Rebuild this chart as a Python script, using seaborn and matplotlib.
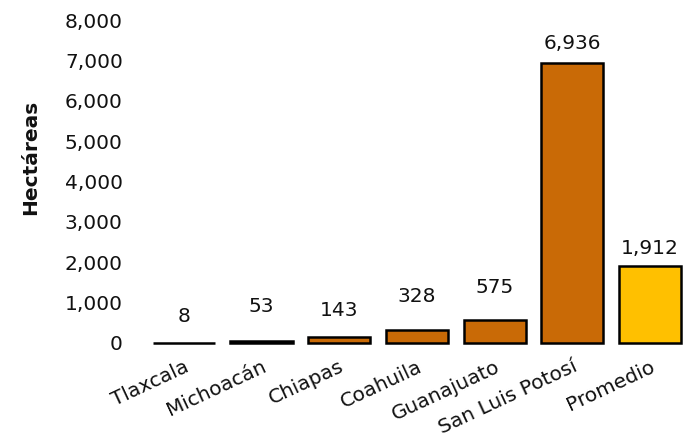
import matplotlib
matplotlib.use("Agg")
import matplotlib.pyplot as plt
import seaborn as sns
import pandas as pd

estados = ["Tlaxcala", "Michoacán", "Chiapas", "Coahuila", "Guanajuato",
           "San Luis Potosí", "Promedio"]
hectareas = [8, 53, 143, 328, 575, 6936, 1912]
colores = ["#C96A06"] * 6 + ["#FFC000"]
yticks = [0, 1000, 2000, 3000, 4000, 5000, 6000, 7000, 8000]

df = pd.DataFrame({"estado": estados, "ha": hectareas})

sns.set_theme(style="white")
plt.rcParams["font.family"] = ["DejaVu Sans"]

fig = plt.figure(figsize=(6.85, 4.37), dpi=100)
ax = fig.add_axes([145 / 685, 94 / 437, 540 / 685, 323 / 437])

sns.barplot(data=df, x="estado", y="ha", hue="estado", palette=colores,
            legend=False, width=0.8, edgecolor="black", linewidth=1.8,
            saturation=1, ax=ax)
for bar in ax.patches:
    bar.set_clip_on(False)

label_offsets = [26, 34, 27, 33, 32, 19, 17]
for i, (v, off) in enumerate(zip(hectareas, label_offsets)):
    ax.annotate(f"{v:,}", (i, v), xytext=(0, off), textcoords="offset pixels",
                ha="center", va="center", fontsize=14.5, color="#111111")

ax.set_ylim(0, 8000)
ax.set_xlim(-0.5, 6.45)
ax.set_yticks(yticks)
ax.set_yticklabels([f"{t:,}" for t in yticks], fontsize=14.5, color="#111111")
ax.set_xticks(range(len(estados)))
ax.set_xticklabels(estados, rotation=25, ha="right", rotation_mode="anchor",
                   fontsize=14.5, color="#111111")
ax.tick_params(axis="both", length=0)
ax.tick_params(axis="x", pad=10)
ax.tick_params(axis="y", pad=16)
ax.set_xlabel("")
ax.set_ylabel("Hectáreas", fontsize=14.5, fontweight="bold", color="#111111")
ax.yaxis.set_label_coords(-0.194, 0.576)
sns.despine(ax=ax, left=True, bottom=True)

fig.savefig("out.png", dpi=100)
